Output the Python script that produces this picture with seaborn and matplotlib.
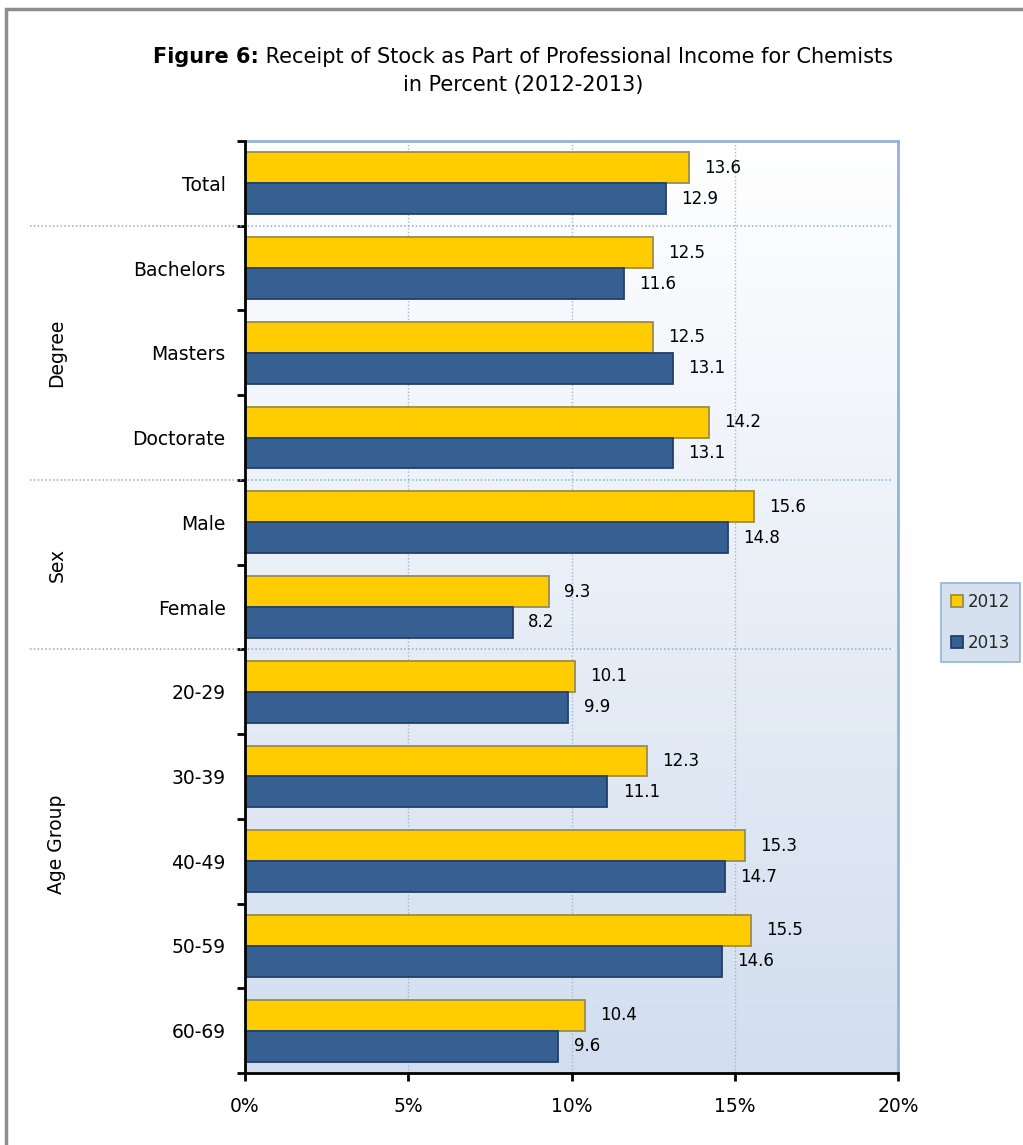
import numpy as np
import pandas as pd
import matplotlib
matplotlib.use("Agg")
import matplotlib.pyplot as plt
import seaborn as sns
from matplotlib.colors import LinearSegmentedColormap
from matplotlib.patches import Rectangle, Patch
import matplotlib.transforms as mtransforms

categories = ["Total", "Bachelors", "Masters", "Doctorate", "Male", "Female",
              "20-29", "30-39", "40-49", "50-59", "60-69"]
values_2012 = [13.6, 12.5, 12.5, 14.2, 15.6, 9.3, 10.1, 12.3, 15.3, 15.5, 10.4]
values_2013 = [12.9, 11.6, 13.1, 13.1, 14.8, 8.2, 9.9, 11.1, 14.7, 14.6, 9.6]
years = ["2012", "2013"]
x_ticks = [0, 5, 10, 15, 20]
x_tick_labels = ["0%", "5%", "10%", "15%", "20%"]
group_names = ["Degree", "Sex", "Age Group"]
separators = [0.5, 3.5, 5.5]
group_label_y = [2.0, 4.5, 7.8]

df = pd.DataFrame({
    "Category": categories * 2,
    "Year": [years[0]] * len(categories) + [years[1]] * len(categories),
    "Value": values_2012 + values_2013,
})

sns.set_theme(style="white")
plt.rcParams["font.family"] = ["DejaVu Sans"]

W, H = 1023, 1145
fig = plt.figure(figsize=(W / 100, H / 100), dpi=100)
ax = fig.add_axes([245 / W, 1 - 1073 / H, (898 - 245) / W, (1073 - 141) / H])

colors = {"2012": "#FFCC00", "2013": "#366092"}
edges = {"2012": "#9C8C4A", "2013": "#22406A"}

sns.barplot(data=df, y="Category", x="Value", hue="Year", order=categories,
            hue_order=years, palette=colors, width=0.73, gap=0,
            orient="h", ax=ax, legend=False, saturation=1)

for i, cont in enumerate(ax.containers):
    yr = years[i]
    for bar in cont:
        bar.set_edgecolor(edges[yr])
        bar.set_linewidth(1.3)
        bar.set_zorder(3)
    ax.bar_label(cont, labels=[f"{v:.1f}" for v in cont.datavalues],
                 padding=11, fontsize=12, color="#000000")

# gradient background
cmap = LinearSegmentedColormap.from_list("bg", ["#ffffff", "#d2deef"])
grad = np.linspace(0, 1, 256).reshape(-1, 1)
ax.imshow(grad, aspect="auto", cmap=cmap, extent=[0, 1, 0, 1],
          transform=ax.transAxes, zorder=0, interpolation="bicubic")
ax.patch.set_visible(False)

ax.set_xlim(0, 20)
ax.set_ylim(10.5, -0.5)
ax.set_xticks(x_ticks)
ax.set_xticklabels(x_tick_labels, fontsize=13.5)
ax.set_yticks(range(len(categories)))
ax.set_yticklabels(categories, fontsize=13.5)
ax.set_yticks(np.arange(-0.5, len(categories), 1.0), minor=True)
ax.tick_params(axis="y", which="major", length=0, pad=14, colors="#000000")
ax.tick_params(axis="y", which="minor", left=True, length=6, width=2, color="black")
ax.tick_params(axis="x", which="major", bottom=True, length=6, width=2,
               color="black", pad=11, labelcolor="#000000")
ax.set_xlabel("")
ax.set_ylabel("")

ax.set_axisbelow(True)
ax.xaxis.grid(True, linestyle=(0, (1, 1.5)), color="#9fb7d6", linewidth=1, zorder=0.5)
ax.yaxis.grid(False)

for s in ["left", "bottom"]:
    ax.spines[s].set_color("black")
    ax.spines[s].set_linewidth(2)
    ax.spines[s].set_zorder(5)
for s in ["top", "right"]:
    ax.spines[s].set_visible(True)
    ax.spines[s].set_color("#95b3d7")
    ax.spines[s].set_linewidth(2)

trans = mtransforms.blended_transform_factory(ax.transAxes, ax.transData)
x0 = (30 - 245) / (898 - 245)
x1 = (893 - 245) / (898 - 245)
for s in separators:
    ax.plot([x0, x1], [s, s], transform=trans, clip_on=False,
            linestyle=(0, (1, 1.5)), color="#8eaad2", linewidth=1.1, zorder=4)

for name, yc in zip(group_names, group_label_y):
    ax.text((57 - 245) / (898 - 245), yc, name, transform=trans,
            rotation=90, ha="center", va="center", fontsize=13.5, color="#000000")

# title (bold + normal)
fig.canvas.draw()
renderer = fig.canvas.get_renderer()
tfs = 15
t_bold = fig.text(0, 1 - 57 / H, "Figure 6:", fontsize=tfs, fontweight="bold",
                  ha="left", va="center", color="#000000")
t_norm = fig.text(0, 1 - 57 / H, " Receipt of Stock as Part of Professional Income for Chemists",
                  fontsize=tfs, ha="left", va="center", color="#000000")
wb = t_bold.get_window_extent(renderer).width
wn = t_norm.get_window_extent(renderer).width
start = 523 - (wb + wn) / 2
t_bold.set_x(start / W)
t_norm.set_x((start + wb) / W)
fig.text(523 / W, 1 - 85 / H, "in Percent (2012-2013)", fontsize=tfs,
         ha="center", va="center", color="#000000")

handles = [Patch(facecolor=colors[y], edgecolor=edges[y], linewidth=1.3, label=y) for y in years]
leg = fig.legend(handles=handles, loc="upper right", bbox_to_anchor=(1020 / W, 1 - 583 / H),
                 fontsize=12, frameon=True, fancybox=False, framealpha=1,
                 handlelength=0.75, handleheight=0.75, handletextpad=0.25,
                 labelspacing=1.35, borderpad=0.6, borderaxespad=0)
leg.get_frame().set_facecolor("#d6e1ef")
leg.get_frame().set_edgecolor("#95b3d7")
leg.get_frame().set_linewidth(1.2)

fig.patches.append(Rectangle((6 / W, -0.1), 1.2, 1.1 - 9 / H, transform=fig.transFigure,
                             fill=False, edgecolor="#8c8c8c", linewidth=2.5))

fig.savefig("out.png", dpi=100, facecolor="white")
